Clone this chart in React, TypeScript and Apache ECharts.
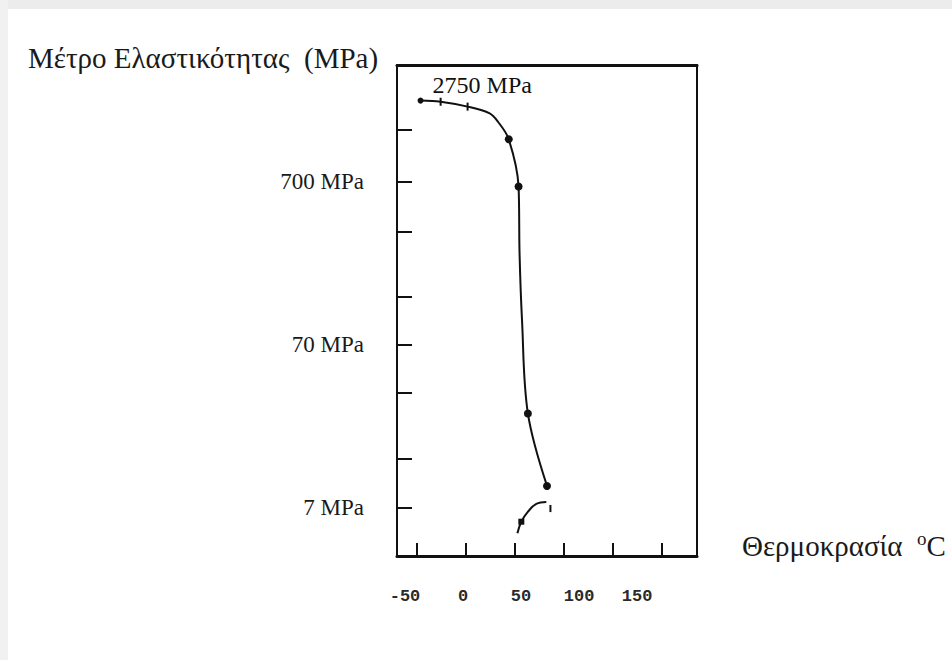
import React, { useEffect, useRef } from "react";
import * as echarts from "echarts";

// Main curve: temperature (°C) vs elastic modulus (MPa)
const mainTemp = [-46, -25.5, 2, 24.5, 33, 44, 54, 55, 57.5, 63.5, 83];
const mainModulus = [2210, 2175, 2030, 1845, 1640, 1280, 656, 256, 100, 26.6, 9.55];
// Lower short curve
const lowTemp = [52.8, 56.8, 63.6, 72.1, 82.3];
const lowModulus = [4.9, 5.76, 6.64, 7.4, 7.6];
// Small stroke at the end of the lower curve
const strokeTemp = [86.5, 86.5];
const strokeModulus = [7.3, 6.6];

const xTickValues = [-50, 0, 50, 100, 150, 200];
const xLabelValues = [-50, 0, 50, 100, 150];
const yTickValues = [1460, 700, 345, 138, 70, 35.5, 14, 7];
const yLabelValues = [7, 70, 700];
const annotationPoint = [17, 2750];

const DOT_IDX = [5, 6, 9, 10];
const TICK_IDX = [1, 2];
const SMALL_IDX = [0];

const serif = "'Liberation Serif', 'DejaVu Serif', serif";

export default function App() {
  const ref = useRef<HTMLDivElement>(null);
  useEffect(() => {
    if (!ref.current) return;
    const chart = echarts.init(ref.current, undefined, { renderer: "svg" });
    const lg = (v: number) => Math.log10(v);
    const mainData = mainTemp.map((t, i) => {
      let symbol = "none";
      let symbolSize: any = 0;
      if (DOT_IDX.includes(i)) { symbol = "circle"; symbolSize = 8; }
      else if (TICK_IDX.includes(i)) { symbol = "rect"; symbolSize = [2, 8]; }
      else if (SMALL_IDX.includes(i)) { symbol = "circle"; symbolSize = 6; }
      return { value: [t, lg(mainModulus[i])], symbol, symbolSize };
    });
    const lowData = lowTemp.map((t, i) => ({
      value: [t, lg(lowModulus[i])],
      symbol: i === 1 ? "rect" : "none",
      symbolSize: i === 1 ? 6 : 0,
    }));
    const strokeData = strokeTemp.map((t, i) => [t, lg(strokeModulus[i])]);

    chart.setOption({
      animation: false,
      backgroundColor: "#ffffff",
      grid: { left: 397, right: 255, top: 65, bottom: 104, show: false },
      xAxis: [
        {
          type: "value", position: "bottom", min: -70, max: 236,
          axisLine: { show: true, onZero: false, lineStyle: { color: "#111", width: 3 } },
          axisTick: { show: true, inside: true, length: 13, customValues: xTickValues, lineStyle: { color: "#111", width: 2 } },
          axisLabel: { show: false },
          splitLine: { show: false },
        },
        {
          type: "value", position: "bottom", min: -56.9, max: 201.7,
          axisLine: { show: false },
          axisTick: { show: false },
          axisLabel: {
            show: true, customValues: xLabelValues, margin: 32,
            fontFamily: "'Liberation Mono', 'DejaVu Sans Mono', monospace",
            fontSize: 17, fontWeight: "bold", color: "#2a2a2a",
          },
          splitLine: { show: false },
        },
        {
          type: "value", position: "top", min: -70, max: 236,
          axisLine: { show: true, onZero: false, lineStyle: { color: "#111", width: 3 } },
          axisTick: { show: false }, axisLabel: { show: false }, splitLine: { show: false },
        },
      ],
      yAxis: [
        {
          type: "value", position: "left", min: 0.55, max: 3.563,
          axisLine: { show: true, onZero: false, lineStyle: { color: "#111", width: 2 } },
          axisTick: { show: true, inside: true, length: 15, customValues: yTickValues.map(lg), lineStyle: { color: "#111", width: 2 } },
          axisLabel: {
            show: true, customValues: yLabelValues.map(lg), margin: 33,
            fontFamily: serif, fontSize: 23, color: "#1a1a1a",
            formatter: (v: number) => `${Math.round(Math.pow(10, v))} MPa`,
          },
          splitLine: { show: false },
        },
        {
          type: "value", position: "right", min: 0.55, max: 3.563,
          axisLine: { show: true, onZero: false, lineStyle: { color: "#111", width: 2 } },
          axisTick: { show: false }, axisLabel: { show: false }, splitLine: { show: false },
        },
      ],
      series: [
        {
          type: "line", xAxisIndex: 0, yAxisIndex: 0, data: mainData, smooth: 0.35,
          lineStyle: { color: "#111", width: 2 }, itemStyle: { color: "#111" },
          showSymbol: true,
        },
        {
          type: "line", xAxisIndex: 0, yAxisIndex: 0, data: lowData, smooth: 0.4,
          lineStyle: { color: "#111", width: 2 }, itemStyle: { color: "#111" },
        },
        {
          type: "line", xAxisIndex: 0, yAxisIndex: 0, data: strokeData, symbol: "none",
          lineStyle: { color: "#111", width: 2 },
        },
        {
          type: "scatter", xAxisIndex: 0, yAxisIndex: 0,
          data: [[annotationPoint[0], lg(annotationPoint[1])]],
          symbolSize: 0,
          itemStyle: { color: "#111", opacity: 1 },
          label: {
            show: true, position: "inside", formatter: "2750 MPa",
            fontFamily: serif, fontSize: 24, color: "#111",
            textBorderWidth: 0, opacity: 1,
          },
        },
      ],
      graphic: [
        { type: "rect", shape: { x: 0, y: 0, width: 952, height: 9 }, style: { fill: "#ececec" }, z: -10 },
        { type: "rect", shape: { x: 0, y: 0, width: 8, height: 660 }, style: { fill: "#f1f1f1" }, z: -10 },
        {
          type: "text", left: 28, top: 43,
          style: { text: "Μέτρο Ελαστικότητας  (MPa)", font: `29px ${serif}`, fill: "#1a1a1a" },
        },
        {
          type: "text", left: 742, top: 529,
          style: {
            text: "Θερμοκρασία  {sup|o}C",
            rich: { sup: { fontSize: 19, fontFamily: serif, verticalAlign: "top", padding: [0, 0, 14, 0] } },
            font: `29px ${serif}`, fill: "#1a1a1a",
          },
        },
      ],
    });
    return () => chart.dispose();
  }, []);
  return (
    <div
      ref={ref}
      style={{ position: "absolute", left: 0, top: 0, width: 952, height: 660 }}
    />
  );
}
